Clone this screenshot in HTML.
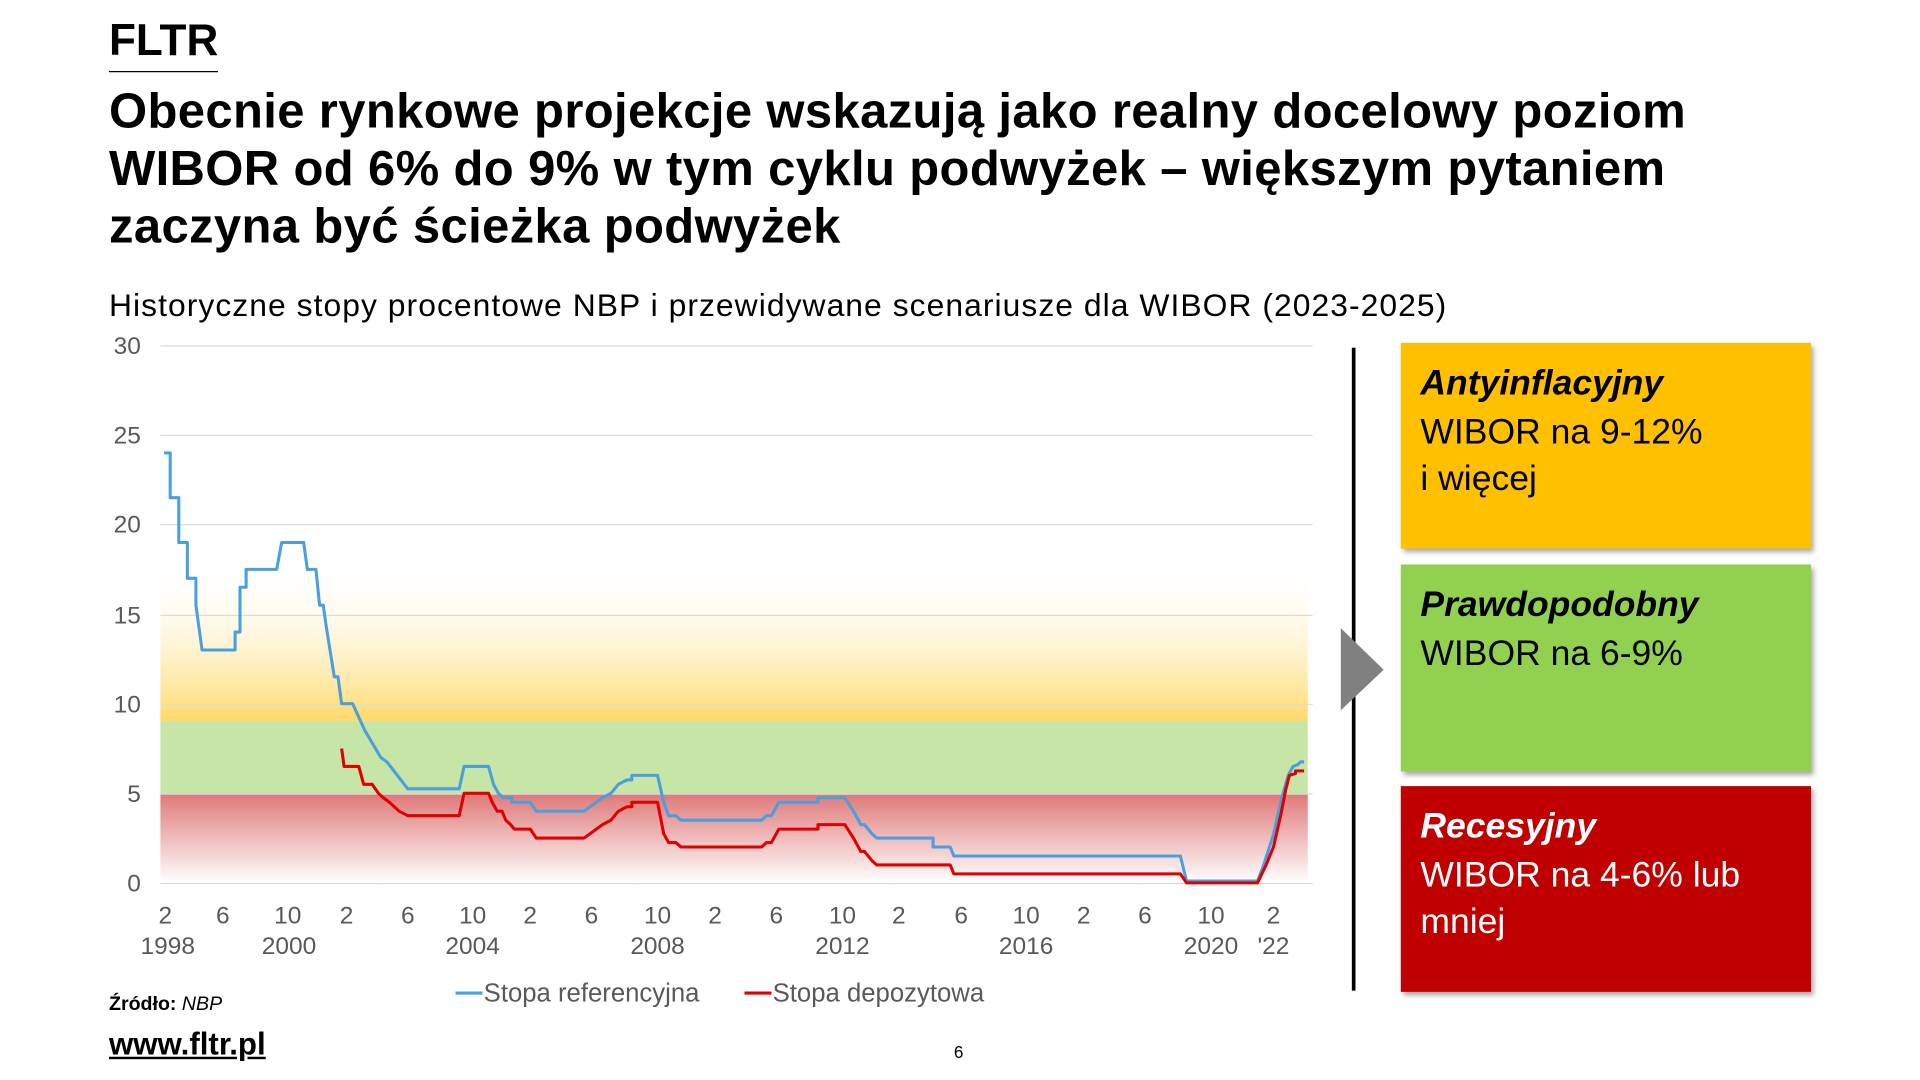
<!DOCTYPE html>
<html><head><meta charset="utf-8"><style>
html,body{margin:0;padding:0;background:#fff;width:1920px;height:1080px;overflow:hidden}
#s{position:absolute;left:0;top:0;width:1568px;height:882px;transform:scale(1.22449);transform-origin:0 0;font-family:"Liberation Sans",sans-serif;color:#000}
.a{position:absolute;white-space:nowrap}
.box{position:absolute;left:1144px;width:335px;box-shadow:2px 3px 4px rgba(0,0,0,.35);font-size:29px;line-height:38px;padding:14px 0 0 16px;box-sizing:border-box}
.box b{font-style:italic;display:block;margin-bottom:2px}
</style></head><body><div id="s">
<div class="a" style="left:89px;top:12px;font-size:36px;font-weight:bold">FLTR</div>
<div class="a" style="left:89px;top:58px;width:89px;height:1px;background:#000"></div>
<div class="a" style="left:89px;top:68px;font-size:40px;font-weight:bold;line-height:47px;letter-spacing:0.3px">Obecnie rynkowe projekcje wskazują jako realny docelowy poziom<br>WIBOR od 6% do 9% w tym cyklu podwyżek – większym pytaniem<br>zaczyna być ścieżka podwyżek</div>
<div class="a" style="left:89px;top:234px;font-size:26px;letter-spacing:0.85px">Historyczne stopy procentowe NBP i przewidywane scenariusze dla WIBOR (2023-2025)</div>
<svg class="a" style="left:0;top:0" width="1568" height="882">
<defs>
<linearGradient id="gy" x1="0" y1="1" x2="0" y2="0"><stop offset="0" stop-color="#ffd966"/><stop offset="1" stop-color="#fff" stop-opacity="0"/></linearGradient>
<linearGradient id="gr" x1="0" y1="0" x2="0" y2="1"><stop offset="0" stop-color="#df7878"/><stop offset="1" stop-color="#fff"/></linearGradient>
</defs>
<rect x="131" y="458" width="937" height="131" fill="url(#gy)"/>
<rect x="131" y="589" width="937" height="59" fill="#c6e5a6"/>
<rect x="131" y="648" width="937" height="73" fill="url(#gr)"/>
<g stroke="#d9d9d9" stroke-width="1">
<line x1="131" x2="1072" y1="282.5" y2="282.5"/><line x1="131" x2="1072" y1="355.5" y2="355.5"/><line x1="131" x2="1072" y1="428.5" y2="428.5"/><line x1="131" x2="1072" y1="502.5" y2="502.5"/><line x1="131" x2="1072" y1="575.5" y2="575.5"/><line x1="131" x2="1072" y1="648.5" y2="648.5"/><line x1="131" x2="1072" y1="721.5" y2="721.5"/>
</g>
<g font-size="20" fill="#595959" text-anchor="end">
<text x="115" y="289">30</text><text x="115" y="362">25</text><text x="115" y="435">20</text><text x="115" y="509">15</text><text x="115" y="582">10</text><text x="115" y="655">5</text><text x="115" y="728">0</text>
</g>
<g font-size="20" fill="#595959" text-anchor="middle">
<text x="135" y="754">2</text><text x="182" y="754">6</text><text x="235" y="754">10</text><text x="283" y="754">2</text><text x="333" y="754">6</text><text x="386" y="754">10</text><text x="433" y="754">2</text><text x="483" y="754">6</text><text x="537" y="754">10</text><text x="584" y="754">2</text><text x="634" y="754">6</text><text x="688" y="754">10</text><text x="734" y="754">2</text><text x="785" y="754">6</text><text x="838" y="754">10</text><text x="885" y="754">2</text><text x="935" y="754">6</text><text x="989" y="754">10</text><text x="1040" y="754">2</text>
<text x="137" y="779">1998</text><text x="236" y="779">2000</text><text x="386" y="779">2004</text><text x="537" y="779">2008</text><text x="688" y="779">2012</text><text x="838" y="779">2016</text><text x="989" y="779">2020</text><text x="1040" y="779">'22</text>
</g>
<g transform="translate(0,721) scale(1,-14.63)" fill="none" stroke-linejoin="round">
<path vector-effect="non-scaling-stroke" stroke="#4a9fdc" stroke-width="2.5" d="M134 24 H139 V21.5 H146 V19 H153 V17 H160 V15.5 L165 13 H192 V14 H196 V16.5 H201 V17.5 H226 L230 19 H248 L251 17.5 H258 L261 15.5 H264 L266 14.5 L273 11.5 H276 L279 10 H288 L298 8.5 L311 7 L316 6.75 L333 5.25 H375 L379 6.5 H399 L403 5.5 L407 5 L411 4.75 H418 V4.5 H433 L438 4 H477 L482 4.25 L487 4.5 L492 4.75 L499 5 L505 5.5 L512 5.75 H516 V6 H537 L542 4.5 L546 3.75 L552 3.75 L556 3.5 H622 L626 3.75 H630 L636 4.5 H668 V4.75 H690 L697 4.0 L703 3.25 H706 L712 2.75 L716 2.5 H762 V2.0 H776 L779 1.5 H964 L969 0.1 H1027 L1032 1.0 L1040 2.7 L1047 4.8 L1052 6.0 L1056 6.5 L1060 6.6 L1062 6.75 H1065"/>
<path vector-effect="non-scaling-stroke" stroke="#e00000" stroke-width="2.5" d="M279 7.5 L281 6.5 H293 L297 5.5 H304 L309 5.0 L313 4.75 L318 4.5 L322 4.25 L326 4 L333 3.75 H375 L379 5 H399 L402 4.5 L406 4 H410 L413 3.5 L417 3.25 L420 3 H433 L438 2.5 H477 L482 2.75 L487 3 L492 3.25 L499 3.5 L505 4 L512 4.25 H516 V4.5 H537 L542 2.75 L546 2.25 H552 L556 2.0 H622 L626 2.25 H630 L636 3.0 H668 V3.25 H690 L697 2.5 L703 1.75 H706 L712 1.25 L716 1.0 H776 L779 0.5 H964 L969 0 H1027 L1034 1.0 L1040 2.0 L1046 3.8 L1050 5.2 L1053 6.0 L1058 6.1 V6.25 H1065"/>
</g>
<line x1="372" x2="394" y1="811" y2="811" stroke="#4a9fdc" stroke-width="2.5"/>
<line x1="608" x2="630" y1="811" y2="811" stroke="#e00000" stroke-width="2.5"/>
<g font-size="21" fill="#595959"><text x="395" y="818">Stopa referencyjna</text><text x="631" y="818">Stopa depozytowa</text></g>
<line x1="1105.5" x2="1105.5" y1="284" y2="809" stroke="#000" stroke-width="3"/>
<polygon points="1095,513 1130,547 1095,580" fill="#808080"/>
</svg>
<div class="box" style="top:280px;height:168px;background:#ffc000"><b>Antyinflacyjny</b>WIBOR na 9-12%<br>i więcej</div>
<div class="box" style="top:461px;height:169px;background:#92d050"><b>Prawdopodobny</b>WIBOR na 6-9%</div>
<div class="box" style="top:642px;height:168px;background:#c00000;color:#fff"><b>Recesyjny</b>WIBOR na 4-6% lub<br>mniej</div>
<div class="a" style="left:89px;top:812px;font-size:16px"><b>Źródło:</b> <i>NBP</i></div>
<div class="a" style="left:89px;top:839px;font-size:25.5px;font-weight:bold;text-decoration:underline">www.fltr.pl</div>
<div class="a" style="left:779px;top:851px;font-size:14px">6</div>
</div></body></html>
